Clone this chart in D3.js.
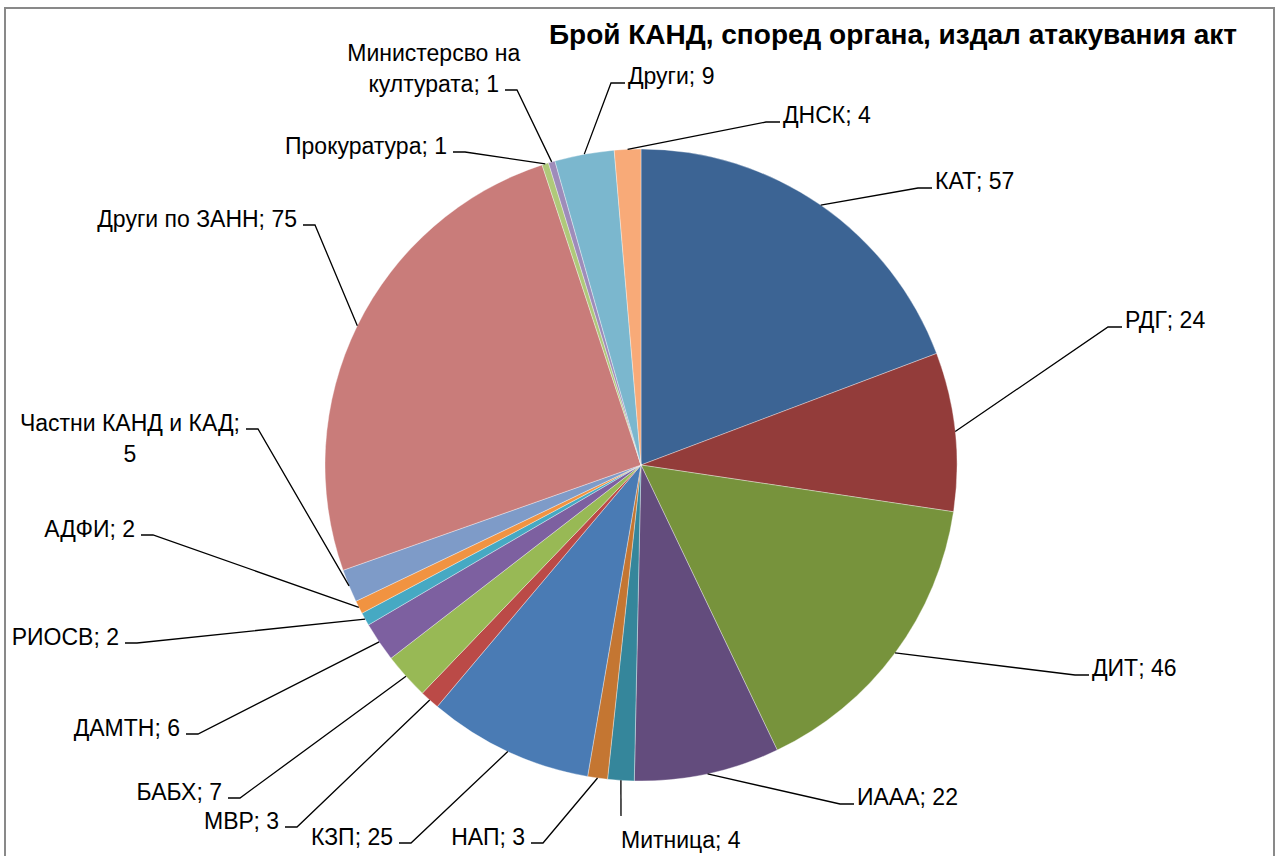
<!DOCTYPE html>
<html>
<head>
<meta charset="utf-8">
<script src="https://cdn.jsdelivr.net/npm/d3@7"></script>
<style>
  body { margin: 0; background: #fff; }
  svg { display: block; font-family: "Liberation Sans", Arial, sans-serif; }
  .label { font-size: 23px; fill: #000; }
  .leader { fill: none; stroke: #000; stroke-width: 1.3; }
</style>
</head>
<body>
<div class="container"></div>
<script>
const categories = [
  "КАТ", "РДГ", "ДИТ", "ИААА", "Митница", "НАП", "КЗП", "МВР", "БАБХ",
  "ДАМТН", "РИОСВ", "АДФИ", "Частни КАНД и КАД", "Други по ЗАНН",
  "Прокуратура", "Министерсво на културата", "Други", "ДНСК"
];
const values = [57, 24, 46, 22, 4, 3, 25, 3, 7, 6, 2, 2, 5, 75, 1, 1, 9, 4];
const colors = [
  "#3c6494", "#933c3a", "#77933c", "#634c7d", "#35869b", "#c47632",
  "#4a7bb4", "#bb4a47", "#98b955", "#7d60a0", "#46a9c3", "#f19341",
  "#7e9bc8", "#c97c7a", "#afc97a", "#9e8cba", "#7bb7ce", "#f8aa78"
];
const title = "Брой КАНД, според органа, издал атакувания акт";

// where each leader line bends into its short horizontal tick (x, y, side)
const labelPos = [
  [918, 188, 1], [1108, 327, 1], [1075, 675, 1], [840, 804, 1], [621, 816, 0],
  [543, 843, -1], [411, 843, -1], [297, 827, -1], [240, 798, -1], [198, 734, -1],
  [137, 643, -1], [153, 535, -1], [258, 429, -1], [315, 225, -1], [465, 152, -1],
  [517, 90, -1], [611, 83, 1], [766, 122, 1]
];
// labels that wrap onto two lines: first line text, and which line the tick meets
const wrapFirst = {
  12: { first: "Частни КАНД и КАД;", tickLine: 0 },
  15: { first: "Министерсво на", tickLine: 1 }
};

const width = 1277;
const height = 856;
const cx = 641;
const cy = 465;
const radius = 316;
const lineGap = 31;

const svg = d3.select(".container")
  .append("svg")
  .attr("width", width)
  .attr("height", height);

// chart frame
svg.append("rect")
  .attr("x", 5)
  .attr("y", 8)
  .attr("width", 1269)
  .attr("height", 1000)
  .attr("fill", "#fff")
  .attr("stroke", "#898989")
  .attr("stroke-width", 2);

svg.append("text")
  .attr("x", 893)
  .attr("y", 44)
  .attr("text-anchor", "middle")
  .style("font-size", "28px")
  .style("font-weight", "bold")
  .text(title);

const data = categories.map((c, i) => ({ name: c, value: values[i], i }));

const pie = d3.pie()
  .sort(null)
  .value(d => d.value);

const arc = d3.arc()
  .innerRadius(0)
  .outerRadius(radius);

const arcs = pie(data);

const g = svg.append("g")
  .attr("transform", `translate(${cx},${cy})`);

g.selectAll("path.slice")
  .data(arcs)
  .join("path")
  .attr("class", "slice")
  .attr("d", arc)
  .attr("fill", d => colors[d.data.i])
  .attr("stroke", "#fff")
  .attr("stroke-width", 0.5)
  .attr("stroke-opacity", 0.7);

// leader lines + labels
const labels = svg.append("g");

arcs.forEach(d => {
  const i = d.data.i;
  const [ex, ey, side] = labelPos[i];
  const mid = (d.startAngle + d.endAngle) / 2;
  const sx = cx + radius * Math.sin(mid);
  const sy = cy - radius * Math.cos(mid);
  const full = `${d.data.name}; ${d.data.value}`;

  if (side === 0) {
    labels.append("path")
      .attr("class", "leader")
      .attr("d", `M${sx},${sy}L${ex},${ey}`);
    labels.append("text")
      .attr("class", "label")
      .attr("x", ex)
      .attr("y", ey + 32)
      .text(full);
    return;
  }

  const tickEnd = side > 0 ? ex + 14 : ex - 12;
  labels.append("path")
    .attr("class", "leader")
    .attr("d", `M${sx},${sy}L${ex},${ey}L${tickEnd},${ey}`);

  if (side > 0) {
    labels.append("text")
      .attr("class", "label")
      .attr("x", tickEnd + 3)
      .attr("y", ey + 1)
      .text(full);
    return;
  }

  const wrap = wrapFirst[i];
  const lines = wrap ? [wrap.first, full.slice(wrap.first.length).trim()] : [full];
  const tickLine = wrap ? wrap.tickLine : 0;
  const endX = tickEnd - 6;
  const baseY = ey + 2;
  const anchorText = labels.append("text")
    .attr("class", "label")
    .attr("x", endX)
    .attr("y", baseY)
    .attr("text-anchor", "end")
    .text(lines[tickLine]);
  if (lines.length > 1) {
    const center = endX - anchorText.node().getComputedTextLength() / 2;
    anchorText.attr("x", center).attr("text-anchor", "middle");
    lines.forEach((t, k) => {
      if (k === tickLine) return;
      labels.append("text")
        .attr("class", "label")
        .attr("x", center)
        .attr("y", baseY + (k - tickLine) * lineGap)
        .attr("text-anchor", "middle")
        .text(t);
    });
  }
});
</script>
</body>
</html>
